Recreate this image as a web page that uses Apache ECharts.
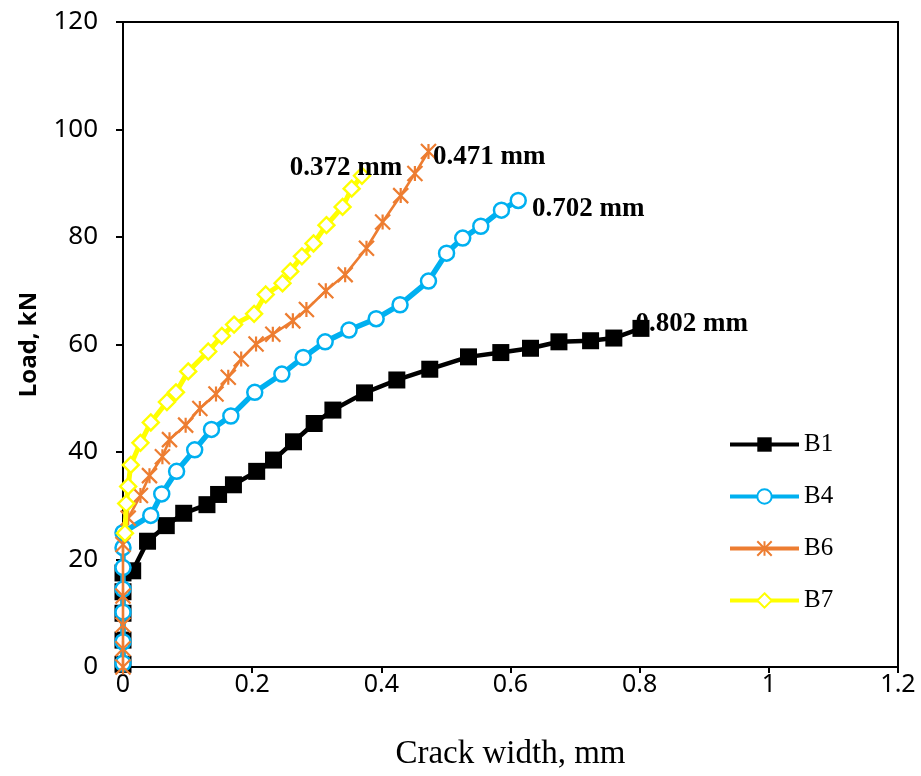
<!DOCTYPE html>
<html>
<head>
<meta charset="utf-8">
<script src="https://cdn.jsdelivr.net/npm/echarts@6/dist/echarts.min.js"></script>
<style>html,body{margin:0;padding:0;background:#fff}#c{width:921px;height:776px}</style>
</head>
<body>
<div id="c"></div>
<script>
const seriesNames = ['B1', 'B4', 'B6', 'B7'];
const endLabels = ['0.802 mm', '0.702 mm', '0.471 mm', '0.372 mm'];
const xTicks = [0, 0.2, 0.4, 0.6, 0.8, 1, 1.2];
const yTicks = [0, 20, 40, 60, 80, 100, 120];

const b1X = [0, 0, 0, 0, 0, 0.015, 0.038, 0.067, 0.094, 0.130, 0.148, 0.171, 0.207, 0.233, 0.264, 0.296, 0.325, 0.374, 0.424, 0.475, 0.535, 0.585, 0.631, 0.675, 0.724, 0.760, 0.802];
const b1Y = [0.5, 5, 10, 14, 17.5, 17.9, 23.4, 26.3, 28.6, 30.2, 32.1, 33.9, 36.4, 38.5, 41.9, 45.3, 47.8, 51.0, 53.4, 55.4, 57.7, 58.5, 59.3, 60.5, 60.7, 61.2, 63.0];

const b4X = [0, 0, 0, 0, 0, 0, 0, 0.043, 0.060, 0.083, 0.111, 0.137, 0.167, 0.204, 0.246, 0.279, 0.313, 0.350, 0.392, 0.429, 0.473, 0.501, 0.526, 0.554, 0.586, 0.612];
const b4Y = [0.7, 4.7, 10.2, 14.5, 18.5, 22.2, 25.0, 28.2, 32.2, 36.4, 40.4, 44.2, 46.7, 51.1, 54.5, 57.6, 60.5, 62.7, 64.8, 67.4, 71.8, 77.0, 79.8, 82.0, 85.0, 86.8];

const b6X = [0, 0, 0, 0, 0, 0.008, 0.027, 0.041, 0.061, 0.072, 0.097, 0.119, 0.144, 0.163, 0.183, 0.206, 0.232, 0.263, 0.284, 0.314, 0.344, 0.377, 0.402, 0.430, 0.452, 0.473];
const b6Y = [0, 3.4, 7.8, 13.2, 22.8, 27.7, 31.9, 35.6, 39.1, 42.3, 45.0, 48.1, 50.8, 53.9, 57.3, 60.1, 61.9, 64.4, 66.5, 70.0, 73.0, 77.9, 82.8, 87.7, 91.8, 95.9];

const b7X = [0.003, 0.005, 0.008, 0.012, 0.027, 0.043, 0.068, 0.082, 0.101, 0.132, 0.153, 0.172, 0.203, 0.221, 0.247, 0.259, 0.277, 0.295, 0.315, 0.340, 0.354, 0.370];
const b7Y = [24.9, 30.4, 33.6, 37.6, 41.7, 45.5, 49.3, 51.1, 55.0, 58.7, 61.6, 63.7, 65.7, 69.3, 71.4, 73.6, 76.4, 78.8, 82.2, 85.6, 89.0, 91.4];

const xs = [b1X, b4X, b6X, b7X];
const ys = [b1Y, b4Y, b6Y, b7Y];

const colors = ['#000000', '#00B0F0', '#ED7D31', '#FFFF00'];
const lineWidths = [4.5, 5.5, 2.6, 5];
const symbols = ['rect', 'circle', 'path://M0,0L10,10M10,0L0,10M5,0L5,10', 'diamond'];
const symbolSizes = [17, 15, 15, 16];
const itemStyles = [
  {color: '#000000', borderColor: '#000000', borderWidth: 0},
  {color: '#ffffff', borderColor: '#00B0F0', borderWidth: 2.5},
  {color: '#ED7D31', borderColor: '#ED7D31', borderWidth: 2.2},
  {color: '#ffffff', borderColor: '#FFFF00', borderWidth: 2.4}
];
const labelOpts = [
  {position: 'right', offset: [-19, -4]},
  {position: 'right', offset: [0, 9]},
  {position: 'right', offset: [-9, 5]},
  {position: 'top', offset: [-16, 20]}
];

const series = seriesNames.map((name, s) => {
  const data = xs[s].map((x, i) => [x, ys[s][i]]);
  const last = data.length - 1;
  data[last] = {
    value: data[last],
    label: Object.assign({
      show: true,
      formatter: endLabels[s],
      fontFamily: 'Liberation Serif',
      fontWeight: 'bold',
      fontSize: 27,
      color: '#000'
    }, labelOpts[s])
  };
  return {
    name: name,
    type: 'line',
    data: data,
    symbol: symbols[s],
    symbolSize: symbolSizes[s],
    showAllSymbol: true,
    lineStyle: {color: colors[s], width: lineWidths[s]},
    itemStyle: itemStyles[s],
    animation: false,
    z: 2 + s
  };
});

const chart = echarts.init(document.getElementById('c'), null, {renderer: 'canvas'});
chart.setOption({
  animation: false,
  backgroundColor: '#fff',
  grid: {left: 123, right: 23, top: 22, bottom: 104, show: true, borderColor: '#000', borderWidth: 2, containLabel: false},
  xAxis: {
    type: 'value', min: xTicks[0], max: xTicks[xTicks.length - 1], interval: 0.2,
    name: 'Crack width, mm', nameLocation: 'middle', nameGap: 71,
    nameTextStyle: {fontFamily: 'Liberation Serif', fontSize: 33, color: '#000'},
    axisLine: {lineStyle: {color: '#000', width: 2}},
    axisTick: {show: true, inside: false, length: 6, lineStyle: {color: '#000', width: 2}},
    axisLabel: {margin: 5, fontFamily: 'Noto Sans', fontSize: 25, color: '#000',
      formatter: v => String(Math.round(v * 10) / 10)},
    splitLine: {show: false}
  },
  yAxis: {
    type: 'value', min: yTicks[0], max: yTicks[yTicks.length - 1], interval: 20,
    name: 'Load, kN', nameLocation: 'middle', nameGap: 82,
    nameTextStyle: {fontFamily: 'Noto Sans', fontWeight: 'bold', fontSize: 24, color: '#000'},
    axisLine: {lineStyle: {color: '#000', width: 2}},
    axisTick: {show: true, inside: false, length: 7, lineStyle: {color: '#000', width: 2}},
    axisLabel: {margin: 25, fontFamily: 'Noto Sans', fontSize: 26, color: '#000'},
    splitLine: {show: false}
  },
  legend: {
    orient: 'vertical', left: 723, top: 427,
    itemWidth: 69, itemHeight: 18, itemGap: 27,
    lineStyle: {width: 4},
    textStyle: {fontFamily: 'Liberation Serif', fontSize: 25, color: '#000'},
    data: seriesNames
  },
  series: series
});
</script>
</body>
</html>
